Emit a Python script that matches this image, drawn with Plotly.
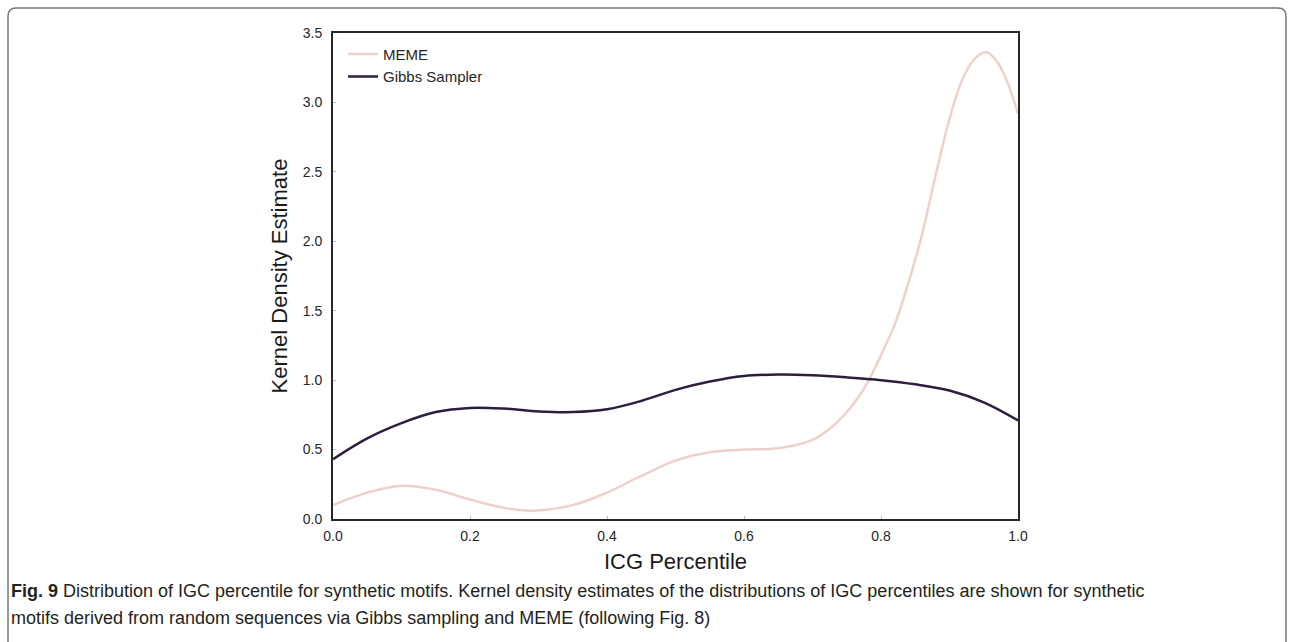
import plotly.graph_objects as go

# ---- data ----
meme_x = [0, 0.05, 0.1, 0.15, 0.2, 0.25, 0.29, 0.35, 0.4, 0.45, 0.5, 0.55, 0.6, 0.65,
          0.7, 0.73, 0.76, 0.78, 0.8, 0.82, 0.84, 0.86, 0.88, 0.9, 0.92, 0.94, 0.955,
          0.97, 0.985, 1.0]
meme_y = [0.10, 0.19, 0.24, 0.21, 0.14, 0.08, 0.06, 0.10, 0.19, 0.31, 0.42, 0.48, 0.50, 0.51,
          0.57, 0.67, 0.83, 0.98, 1.18, 1.40, 1.70, 2.05, 2.48, 2.88, 3.18, 3.33, 3.36,
          3.29, 3.14, 2.92]

gibbs_x = [0, 0.05, 0.1, 0.15, 0.2, 0.25, 0.3, 0.35, 0.4, 0.45, 0.5, 0.55, 0.6, 0.65,
           0.7, 0.75, 0.8, 0.85, 0.9, 0.95, 1.0]
gibbs_y = [0.43, 0.58, 0.69, 0.77, 0.80, 0.795, 0.775, 0.77, 0.79, 0.85, 0.93, 0.99, 1.03,
           1.04, 1.035, 1.02, 1.0, 0.97, 0.925, 0.84, 0.71]

series_names = ["MEME", "Gibbs Sampler"]
x_ticks = [0.0, 0.2, 0.4, 0.6, 0.8, 1.0]
y_ticks = [0.0, 0.5, 1.0, 1.5, 2.0, 2.5, 3.0, 3.5]

W, H = 1294, 642
L, R, T, B = 333, 1018, 33, 519

def px(x):
    return (x - L) / (R - L)

def py(y):
    return (B - y) / (B - T)

fig = go.Figure()
fig.add_trace(go.Scatter(x=meme_x, y=meme_y, mode="lines", name=series_names[0],
                         line=dict(color="#edd1cb", width=2.5, shape="spline"),
                         legendgroup="a"))
fig.add_trace(go.Scatter(x=gibbs_x, y=gibbs_y, mode="lines", name=series_names[1],
                         line=dict(color="#2d1e3e", width=2.5, shape="spline"),
                         legendgroup="b"))

axis_common = dict(showgrid=False, zeroline=False, showline=True, mirror=True,
                   linecolor="#262626", linewidth=1.8, ticks="inside", ticklen=3,
                   tickcolor="#bbbbbb",
                   tickfont=dict(family="Liberation Sans", size=14, color="#262626"))

fig.update_xaxes(range=[0, 1], tickvals=x_ticks, ticktext=[f"{v:.1f}" for v in x_ticks],
                 ticklabelstandoff=3,
                 title=dict(text="ICG Percentile",
                            font=dict(family="Liberation Sans", size=22, color="#1a1a1a"),
                            standoff=11),
                 **axis_common)
fig.update_yaxes(range=[0, 3.5], tickvals=y_ticks, ticktext=[f"{v:.1f}" for v in y_ticks],
                 ticklabelstandoff=6,
                 title=dict(text="Kernel Density Estimate",
                            font=dict(family="Liberation Sans", size=22, color="#1a1a1a"),
                            standoff=9),
                 **axis_common)

# rounded page border
x0, x1 = px(8), px(1286)
y0, y1 = py(8), py(660)
r = 8
rx, ry = r / (R - L), r / (B - T)
path = (f"M {x0+rx},{y0} L {x1-rx},{y0} Q {x1},{y0} {x1},{y0-ry} "
        f"L {x1},{y1} L {x0},{y1} L {x0},{y0-ry} Q {x0},{y0} {x0+rx},{y0} Z")
fig.add_shape(type="path", path=path, xref="paper", yref="paper",
              line=dict(color="#777777", width=1.5), fillcolor="rgba(0,0,0,0)", layer="below")

cap_font = dict(family="Liberation Sans", size=18, color="#231f20")
fig.add_annotation(x=px(9), y=py(591), xref="paper", yref="paper", xanchor="left", yanchor="middle",
                   showarrow=False, font=cap_font, align="left",
                   text="<b>Fig. 9</b> Distribution of IGC percentile for synthetic motifs. Kernel density estimates of the distributions of IGC percentiles are shown for synthetic")
fig.add_annotation(x=px(9), y=py(618), xref="paper", yref="paper", xanchor="left", yanchor="middle",
                   showarrow=False, font=cap_font, align="left",
                   text="motifs derived from random sequences via Gibbs sampling and MEME (following Fig. 8)")

fig.update_layout(
    width=W, height=H,
    margin=dict(l=L, r=W - R, t=T, b=H - B, autoexpand=False),
    paper_bgcolor="white", plot_bgcolor="white",
    showlegend=True,
    legend=dict(x=0.0146, y=0.99, xanchor="left", yanchor="top",
                font=dict(family="Liberation Sans", size=15, color="#262626"),
                bgcolor="rgba(0,0,0,0)", tracegroupgap=0),
)

fig.write_html("out.html", config={"displayModeBar": False},
               post_script="document.body.style.margin='0';document.documentElement.style.overflow='hidden';")
